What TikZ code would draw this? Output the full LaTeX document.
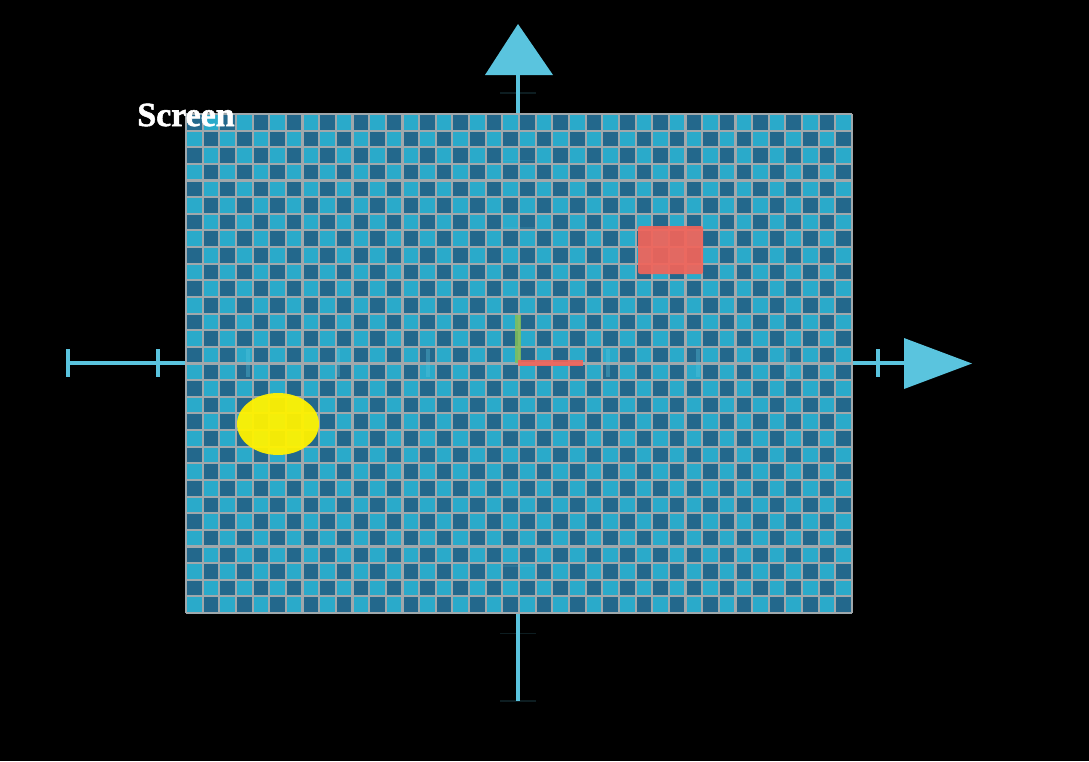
\documentclass[tikz,border=0pt]{standalone}
\usepackage{tikz}
\usetikzlibrary{positioning, calc}
\usepackage{xcolor}
\usepackage{fontspec}
\newfontfamily\labelfont{Liberation Serif}[BoldFeatures={FakeBold=1.6}]

\definecolor{axisblue}{RGB}{90,196,222}
\definecolor{celllight}{RGB}{42,170,202}
\definecolor{celldark}{RGB}{35,104,140}
\definecolor{gridgray}{RGB}{160,168,172}
\definecolor{boxred}{RGB}{242,100,90}
\definecolor{origgreen}{RGB}{130,192,90}

\tikzset{
  axisline/.style={axisblue, line width=1.8pt},
  tickmark/.style={axisblue, line width=2pt},
  gridline/.style={gridgray, line width=1.2pt},
}

\begin{document}
\begin{tikzpicture}[x=0.02cm, y=-0.02cm]
  % Hintergrund
  \fill[black] (0,0) rectangle (1089,761);
  \useasboundingbox (0,0) rectangle (1089,761);
  % Achsen
  \coordinate (O) at (518,363);
  \coordinate (xend) at (904,363);
  \coordinate (yend) at (518,75);
  \draw[axisline] (68,363) -- (xend);
  \draw[axisline, line width=2pt] (yend) -- (518,701);
  \fill[axisblue] (904,338) -- (904,389) -- (972,363.5) -- cycle;
  \fill[axisblue] (485,75) -- (553,75) -- (518,24) -- cycle;
  \foreach \k in {0,1,9}
    \draw[tickmark] ({68+90*\k},349) -- ({68+90*\k},377);
  % Raster
  \fill[celllight] (186,114) rectangle (852,613);
  \foreach \i in {0,...,39} {
    \foreach \j in {0,...,29} {
      \pgfmathtruncatemacro\odd{mod(\i+\j,2)}
      \ifnum\odd=0
        \fill[celldark] ({186+\i*16.65},{114+\j*16.633}) rectangle ++(16.65,16.633);
      \fi
    }
  }
  \draw[gridline] \foreach \i in {0,...,40} { ({186+\i*16.65},114) -- ++(0,499) }
                  \foreach \j in {0,...,30} { (186,{114+\j*16.633}) -- ++(666,0) };
  % Skala im Raster
  \foreach \k in {2,3,4,6,7,8}
    \draw[tickmark, opacity=0.35] ({68+90*\k},349) -- ({68+90*\k},377);
  \foreach \k in {0,...,9}
    \draw[axisblue, line width=1pt, opacity=0.15] (500,{93+67.56*\k}) -- (536,{93+67.56*\k});
  % Objekte
  \fill[boxred, opacity=0.92, rounded corners=1.2pt] (638,226) rectangle (703,274);
  \fill[yellow, opacity=0.95] (278,424) ellipse [x radius=0.82cm, y radius=0.62cm];
  % Ursprung
  \draw[origgreen, opacity=0.85, line width=3.2pt] (O) -- ++(0,-48);
  \draw[boxred, opacity=0.9, line width=3pt] (O) -- ++(65,0);
  % Beschriftung
  \node[white, font=\labelfont\fontsize{19.3}{22}\selectfont\bfseries] (screen) at (186,115) {Screen};
\end{tikzpicture}
\end{document}
